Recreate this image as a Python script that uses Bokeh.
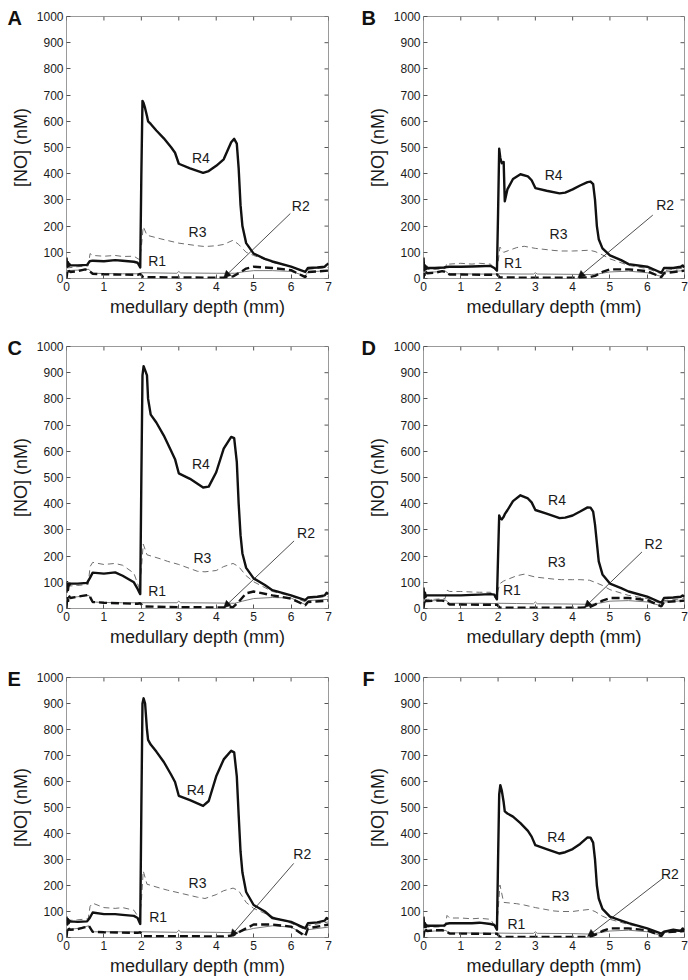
import math
from bokeh.plotting import figure
from bokeh.layouts import gridplot
from bokeh.models import FixedTicker, Range1d, Label, Arrow, NormalHead
from bokeh.embed import file_html
from bokeh.resources import INLINE

# ---------------- data ----------------
X_TICKS = [0, 1, 2, 3, 4, 5, 6, 7]
Y_TICKS = [0, 100, 200, 300, 400, 500, 600, 700, 800, 900, 1000]
X_LABEL = "medullary depth (mm)"
Y_LABEL = "[NO] (nM)"
PANELS = ["A", "B", "C", "D", "E", "F"]
SERIES = ["R1", "R2", "R3", "R4"]

# R4 (thick solid)
R4_X = [0, 0.02, 0.04, 0.06, 0.08, 0.1, 0.3, 0.55, 0.62, 0.7, 1.0, 1.3, 1.5, 1.8, 1.9, 1.97,
        2.0, 2.03, 2.06, 2.1, 2.15, 2.18, 2.25, 2.4, 2.6, 2.8, 2.9, 3.0, 3.3, 3.65, 3.8, 4.0,
        4.2, 4.4, 4.48, 4.55, 4.6, 4.65, 4.7, 4.8, 5.0, 5.3, 5.5, 6.0, 6.38, 6.45, 6.7, 6.9,
        6.95, 7.0]
A_R4 = [80, 45, 62, 48, 55, 50, 50, 52, 66, 68, 66, 70, 68, 64, 60, 42,
        400, 678, 670, 650, 620, 600, 590, 565, 535, 500, 480, 438, 420, 403, 410, 430,
        455, 520, 533, 515, 420, 280, 200, 135, 95, 75, 65, 45, 25, 40, 42, 45, 52, 58]
B_R4 = [80, 30, 50, 35, 45, 40, 40, 42, 44, 45, 45, 46, 47, 48, 40, 30,
        250, 495, 460, 440, 445, 295, 340, 380, 398, 390, 375, 345, 335, 325, 328, 340,
        355, 368, 370, 360, 300, 200, 150, 115, 88, 70, 55, 45, 22, 40, 40, 45, 50, 42]
C_R4 = [60, 100, 70, 95, 90, 95, 95, 98, 115, 137, 133, 138, 125, 100, 75, 55,
        500, 890, 925, 910, 890, 800, 740, 710, 660, 600, 570, 516, 495, 462, 465, 520,
        610, 655, 650, 560, 400, 280, 210, 155, 115, 90, 70, 50, 32, 42, 45, 50, 60, 55]
D_R4 = [80, 40, 60, 45, 50, 50, 50, 50, 50, 50, 50, 52, 53, 55, 53, 35,
        200, 355, 345, 340, 350, 360, 375, 410, 432, 420, 405, 376, 362, 345, 347, 355,
        370, 386, 385, 370, 320, 250, 180, 130, 95, 78, 65, 45, 22, 40, 42, 45, 50, 45]
E_R4 = [80, 50, 70, 55, 65, 62, 60, 62, 75, 96, 90, 90, 87, 83, 75, 52,
        500, 900, 920, 900, 800, 760, 742, 715, 675, 625, 598, 545, 528, 506, 525, 620,
        685, 718, 712, 620, 470, 330, 250, 175, 125, 100, 75, 60, 35, 55, 58, 65, 75, 70]
F_R4 = [80, 40, 55, 40, 48, 45, 45, 46, 53, 55, 55, 55, 57, 52, 48, 30,
        300, 550, 586, 565, 520, 485, 477, 465, 440, 410, 388, 355, 340, 323, 328, 340,
        360, 385, 384, 365, 300, 200, 150, 110, 80, 65, 55, 35, 15, 22, 30, 25, 35, 28]

# R3 (thin dashed)
R3_X = [0, 0.3, 0.58, 0.63, 0.7, 1.0, 1.3, 1.5, 1.8, 1.95, 2.0, 2.05, 2.15, 2.5, 2.7, 3.0,
        3.5, 3.7, 4.0, 4.2, 4.45, 4.6, 4.8, 5.0, 5.5, 6.0, 6.38, 6.45, 7.0]
A_R3 = [40, 45, 48, 95, 88, 85, 88, 84, 85, 72, 120, 198, 165, 152, 145, 135,
        125, 122, 125, 130, 146, 130, 100, 88, 62, 45, 25, 35, 42]
B_R3 = [35, 35, 38, 60, 55, 58, 55, 58, 55, 30, 60, 120, 100, 118, 123, 115,
        107, 105, 105, 106, 108, 103, 90, 75, 50, 38, 18, 30, 40]
C_R3 = [85, 88, 92, 160, 176, 168, 172, 165, 135, 75, 150, 246, 205, 190, 180, 168,
        142, 140, 145, 160, 172, 160, 125, 102, 65, 48, 25, 40, 45]
D_R3 = [35, 35, 38, 70, 65, 65, 63, 62, 62, 35, 70, 95, 105, 125, 131, 120,
        112, 110, 110, 110, 108, 100, 88, 72, 50, 38, 18, 30, 38]
E_R3 = [65, 68, 72, 120, 132, 115, 112, 115, 105, 72, 140, 256, 205, 190, 182, 172,
        155, 150, 165, 180, 190, 180, 135, 112, 80, 55, 30, 45, 60]
F_R3 = [40, 40, 42, 85, 75, 75, 72, 74, 70, 35, 100, 202, 135, 130, 125, 115,
        102, 100, 100, 104, 108, 100, 82, 70, 50, 35, 12, 25, 30]

# R1 (thin solid)
R1_X = [0, 0.3, 0.6, 0.68, 1.0, 1.5, 1.95, 2.0, 2.5, 2.95, 3.0, 3.05, 4.0, 4.5, 4.7, 5.0,
        5.5, 6.0, 6.38, 6.45, 7.0]
A_R1 = [30, 32, 35, 20, 19, 18, 18, 22, 21, 20, 27, 21, 20, 20, 25, 30, 30, 27, 10, 25, 30]
B_R1 = [22, 25, 27, 18, 18, 17, 17, 18, 17, 17, 22, 17, 16, 15, 18, 25, 28, 22, 8, 25, 30]
C_R1 = [40, 45, 50, 25, 23, 22, 22, 22, 22, 22, 28, 22, 21, 20, 28, 38, 42, 40, 15, 30, 35]
D_R1 = [28, 30, 32, 20, 20, 20, 19, 20, 19, 18, 25, 18, 17, 16, 20, 28, 30, 25, 10, 25, 30]
E_R1 = [30, 35, 45, 22, 22, 22, 21, 22, 21, 20, 28, 21, 20, 18, 25, 35, 45, 40, 10, 30, 40]
F_R1 = [22, 25, 27, 18, 18, 17, 17, 17, 16, 16, 22, 16, 15, 13, 18, 25, 28, 22, 8, 20, 25]

# R2 (thick dashed)
R2_X = [0, 0.02, 0.04, 0.06, 0.1, 0.3, 0.5, 0.6, 0.7, 1.0, 1.9, 1.97, 2.05, 3.0, 4.2, 4.45,
        4.6, 4.8, 5.0, 5.5, 6.0, 6.38, 6.45, 7.0]
A_R2 = [0, 25, 15, 30, 25, 28, 35, 30, 18, 16, 14, 18, 5, 4, 3, 8, 20, 38, 45, 40, 32, 5, 25, 30]
B_R2 = [0, 20, 10, 25, 20, 22, 28, 25, 15, 15, 14, 16, 4, 3, 3, 5, 10, 25, 35, 35, 28, 5, 20, 30]
C_R2 = [0, 45, 25, 50, 40, 45, 50, 52, 25, 22, 18, 20, 8, 5, 4, 5, 25, 58, 65, 50, 38, 12, 25, 30]
D_R2 = [0, 25, 15, 30, 28, 30, 30, 28, 15, 15, 14, 15, 3, 3, 3, 5, 15, 30, 40, 40, 32, 8, 25, 30]
E_R2 = [0, 30, 20, 35, 30, 32, 40, 45, 22, 20, 18, 20, 5, 5, 4, 8, 20, 35, 50, 50, 42, 5, 35, 50]
F_R2 = [0, 25, 15, 30, 25, 28, 28, 25, 15, 15, 14, 15, 2, 2, 2, 2, 10, 25, 35, 35, 28, 5, 20, 25]

DATA = {
    "A": (A_R1, A_R2, A_R3, A_R4),
    "B": (B_R1, B_R2, B_R3, B_R4),
    "C": (C_R1, C_R2, C_R3, C_R4),
    "D": (D_R1, D_R2, D_R3, D_R4),
    "E": (E_R1, E_R2, E_R3, E_R4),
    "F": (F_R1, F_R2, F_R3, F_R4),
}

# ---------------- annotation placement ----------------
LABEL_POS = {
    "A": [(2.42, 65), (6.26, 275), (3.5, 177), (3.59, 460)],
    "B": [(2.40, 60), (6.48, 280), (3.62, 170), (3.49, 395)],
    "C": [(2.42, 65), (6.40, 290), (3.63, 194), (3.59, 550)],
    "D": [(2.37, 70), (6.17, 245), (3.57, 177), (3.58, 414)],
    "E": [(2.45, 80), (6.30, 320), (3.50, 209), (3.45, 569)],
    "F": [(2.49, 51), (6.61, 245), (3.67, 160), (3.56, 387)],
}
ARROWS = {
    "A": (5.98, 248, 4.20, 3),
    "B": (6.15, 242, 4.14, 3),
    "C": (6.08, 258, 4.20, 3),
    "D": (5.86, 216, 4.32, 4),
    "E": (6.07, 285, 4.38, 4),
    "F": (6.42, 228, 4.40, 4),
}

FONT = "Liberation Sans"
TEXT = "#1a1a1a"

# layout: (width, border_left, border_right) per column; (height, top, bottom) per row
COLS = [(344, 66, 16), (344, 79, 4)]
ROWS = [(330, 16, 52), (334, 16, 56), (314, 13, 40)]
LETTER_OFF = {"A": -59, "B": -62, "C": -59, "D": -62, "E": -59, "F": -61}


def style_axis(ax):
    ax.axis_line_color = None
    ax.major_tick_in = 4
    ax.major_tick_out = 0
    ax.major_tick_line_color = "#555555"
    ax.major_tick_line_width = 1
    ax.minor_tick_line_color = None
    ax.major_label_text_font = FONT
    ax.major_label_text_color = TEXT
    ax.major_label_text_font_size = "12px"
    ax.major_label_standoff = 3
    ax.axis_label_text_font = FONT
    ax.axis_label_text_font_size = "18px"
    ax.axis_label_text_font_style = "normal"
    ax.axis_label_text_color = TEXT
    ax.axis_label_standoff = 3


def make_panel(letter, ci, ri):
    w, bl, br = COLS[ci]
    h, bt, bb = ROWS[ri]
    p = figure(width=w, height=h, output_backend="svg", toolbar_location=None,
               x_range=Range1d(0, 7), y_range=Range1d(0, 1000),
               min_border_left=bl, min_border_right=br,
               min_border_top=bt, min_border_bottom=bb)
    p.grid.visible = False
    p.outline_line_color = "#9a9a9a"
    p.outline_line_width = 1
    p.background_fill_color = "white"
    p.border_fill_color = "white"

    # panel letter as the plot title, pulled left and down next to the frame
    p.title.text = letter
    p.title.align = "left"
    p.title.offset = LETTER_OFF[letter]
    p.title.standoff = -24
    p.title.text_font = FONT
    p.title.text_font_size = "20px"
    p.title.text_font_style = "bold"
    p.title.text_color = "#111111"

    p.xaxis.ticker = FixedTicker(ticks=X_TICKS)
    p.yaxis.ticker = FixedTicker(ticks=Y_TICKS)
    p.xaxis.axis_label = X_LABEL
    p.yaxis.axis_label = Y_LABEL
    for ax in p.xaxis + p.yaxis:
        style_axis(ax)

    # inward tick marks on the top and right edges of the box
    p.ray(x=X_TICKS, y=[Y_TICKS[-1]] * len(X_TICKS), length=4, length_units="screen",
          angle=-math.pi / 2, line_color="#555555", line_width=1)
    p.ray(x=[X_TICKS[-1]] * len(Y_TICKS), y=Y_TICKS, length=4, length_units="screen",
          angle=math.pi, line_color="#555555", line_width=1)

    r1, r2, r3, r4 = DATA[letter]
    p.line(R1_X, r1, line_color="#7a7a7a", line_width=1.0)
    p.line(R3_X, r3, line_color="#6e6e6e", line_width=1.0, line_dash="6 4")
    p.line(R2_X, r2, line_color="#111111", line_width=2.4, line_dash="8 4")
    p.line(R4_X, r4, line_color="#111111", line_width=2.4, line_join="round")

    for name, (lx, ly) in zip(SERIES, LABEL_POS[letter]):
        p.add_layout(Label(x=lx, y=ly, text=name, text_align="center",
                           text_baseline="middle", text_font=FONT,
                           text_font_size="14px", text_color=TEXT))
    xs, ys, xe, ye = ARROWS[letter]
    p.add_layout(Arrow(x_start=xs, y_start=ys, x_end=xe, y_end=ye,
                       line_color="#222222", line_width=0.8,
                       end=NormalHead(size=7, fill_color="#111111",
                                      line_color="#111111", line_width=0.5)))
    return p


grid = []
for ri in range(3):
    row = []
    for ci in range(2):
        row.append(make_panel(PANELS[ri * 2 + ci], ci, ri))
    grid.append(row)

layout = gridplot(grid, toolbar_location=None)

open("out.html", "w").write(file_html(layout, INLINE))
